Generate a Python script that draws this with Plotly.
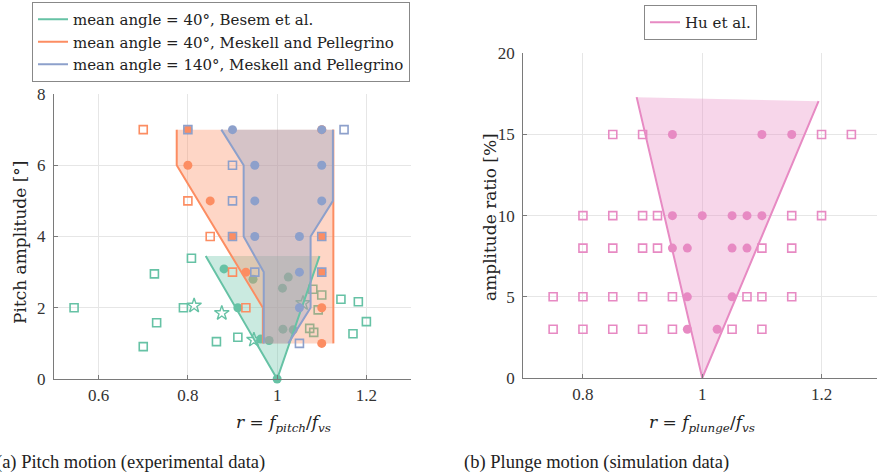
import plotly.graph_objects as go

# ---------------- data: (a) pitch motion ----------------
green_sq_r = [0.545, 0.725, 0.73, 0.70, 0.808, 0.79, 0.864, 0.912, 1.08, 1.10, 1.092, 1.073, 1.082, 1.143, 1.182, 1.20, 1.17]
green_sq_a = [2.0, 2.95, 1.58, 0.91, 3.39, 2.0, 1.05, 1.17, 2.52, 2.36, 1.94, 1.42, 1.31, 2.24, 2.17, 1.61, 1.27]
green_star_r = [0.814, 0.876, 0.948, 1.058]
green_star_a = [2.06, 1.85, 1.10, 2.13]
green_dot_r = [0.881, 0.912, 0.963, 0.982, 0.946, 1.012, 1.025, 1.013, 1.036, 1.0]
green_dot_a = [3.09, 2.0, 1.12, 1.08, 2.80, 2.55, 2.86, 1.40, 1.38, 0.0]
green_region_r = [0.84, 1.0, 1.095]
green_region_a = [3.45, 0.0, 3.45]

orange_sq_r = [0.7, 0.8, 0.85, 0.9, 0.93]
orange_sq_a = [7, 5, 4, 3, 2]
orange_dot_r = [0.8, 0.8, 0.85, 0.9, 1.1, 0.93, 1.1, 1.1, 1.1, 1.1]
orange_dot_a = [7, 6, 5, 4, 4, 3, 3, 2, 1, 7]
orange_left_r = [0.775, 0.775, 0.968, 0.968]
orange_left_a = [7, 6, 2, 1]
orange_right_r = [1.126, 1.126]
orange_right_a = [1, 7]

blue_sq_r = [0.8, 0.9, 0.9, 0.9, 1.1, 0.95, 1.1, 1.05, 1.15]
blue_sq_a = [7, 6, 5, 4, 4, 3, 3, 1, 7]
blue_dot_r = [0.9, 0.95, 0.95, 0.95, 1.05, 1.05, 1.05, 1.1, 1.1, 1.1]
blue_dot_a = [7, 6, 5, 4, 4, 3, 2, 7, 6, 5]
blue_left_r = [0.875, 0.925, 0.925, 0.97, 0.97]
blue_left_a = [7, 6, 4, 3, 1]
blue_right_r = [1.025, 1.075, 1.075, 1.125, 1.125]
blue_right_a = [1, 2, 4, 5, 7]

# ---------------- data: (b) plunge motion ----------------
pink_sq_r = [0.85, 0.9, 1.2, 1.25,
             0.8, 0.85, 0.9, 0.925, 1.15, 1.2,
             0.8, 0.85, 0.9, 0.925, 1.1, 1.15,
             0.75, 0.8, 0.85, 0.9, 0.95, 1.075, 1.1, 1.15,
             0.75, 0.8, 0.85, 0.9, 0.95, 1.05, 1.1]
pink_sq_v = [15, 15, 15, 15,
             10, 10, 10, 10, 10, 10,
             8, 8, 8, 8, 8, 8,
             5, 5, 5, 5, 5, 5, 5, 5,
             3, 3, 3, 3, 3, 3, 3]
pink_dot_r = [0.95, 1.1, 1.15,
              0.95, 1.0, 1.05, 1.075, 1.1,
              0.95, 0.975, 1.05, 1.075,
              0.975, 1.05,
              0.975, 1.025]
pink_dot_v = [15, 15, 15,
              10, 10, 10, 10, 10,
              8, 8, 8, 8,
              5, 5,
              3, 3]
pink_region_r = [0.89, 1.0, 1.195]
pink_region_v = [17.3, 0.0, 17.05]

GREEN, ORANGE, BLUE, PINK = "#66c2a5", "#fc8d62", "#8da0cb", "#e78ac3"
SERIF = "Liberation Serif, DejaVu Serif, serif"
WIDE = "DejaVu Serif, Liberation Serif, serif"
TXT = "#222222"

fig = go.Figure()

def sq(x, y, c, xa="x", ya="y"):
    return go.Scatter(x=x, y=y, mode="markers", xaxis=xa, yaxis=ya, showlegend=False,
                      marker=dict(symbol="square-open", size=8, color=c, line=dict(width=1.6, color=c)),
                      cliponaxis=False, hoverinfo="skip")

def dot(x, y, c, xa="x", ya="y"):
    return go.Scatter(x=x, y=y, mode="markers", xaxis=xa, yaxis=ya, showlegend=False,
                      marker=dict(symbol="circle", size=9, color=c, line=dict(width=0)),
                      cliponaxis=False, hoverinfo="skip")

def region(x, y, rgba, xa="x", ya="y"):
    return go.Scatter(x=x, y=y, mode="lines", fill="toself", fillcolor=rgba, xaxis=xa, yaxis=ya,
                      line=dict(width=0), showlegend=False, hoverinfo="skip")

# green markers (drawn below the regions)
fig.add_trace(sq(green_sq_r, green_sq_a, GREEN))
fig.add_trace(go.Scatter(x=green_star_r, y=green_star_a, mode="markers", showlegend=False,
                         marker=dict(symbol="star-open", size=11, color=GREEN, line=dict(width=1.4, color=GREEN)),
                         hoverinfo="skip"))
fig.add_trace(dot(green_dot_r, green_dot_a, GREEN))

# regions
fig.add_trace(region(green_region_r + [green_region_r[0]], green_region_a + [green_region_a[0]], "rgba(102,194,165,0.35)"))
fig.add_trace(region(orange_left_r + orange_right_r + [orange_left_r[0]],
                     orange_left_a + orange_right_a + [orange_left_a[0]], "rgba(252,141,98,0.36)"))
fig.add_trace(region(blue_left_r + blue_right_r + [blue_left_r[0]],
                     blue_left_a + blue_right_a + [blue_left_a[0]], "rgba(141,160,203,0.36)"))

# boundary lines (legend entries)
fig.add_trace(go.Scatter(x=green_region_r, y=green_region_a, mode="lines", line=dict(color=GREEN, width=2),
                         name="mean angle = 40°, Besem et al.", legend="legend", legendrank=1, hoverinfo="skip"))
fig.add_trace(go.Scatter(x=orange_left_r + [None] + orange_right_r, y=orange_left_a + [None] + orange_right_a,
                         mode="lines", line=dict(color=ORANGE, width=2),
                         name="mean angle = 40°, Meskell and Pellegrino", legend="legend", legendrank=2, hoverinfo="skip"))
fig.add_trace(go.Scatter(x=blue_left_r + [None] + blue_right_r, y=blue_left_a + [None] + blue_right_a,
                         mode="lines", line=dict(color=BLUE, width=2),
                         name="mean angle = 140°, Meskell and Pellegrino", legend="legend", legendrank=3, hoverinfo="skip"))

# orange / blue markers
fig.add_trace(sq(orange_sq_r, orange_sq_a, ORANGE))
fig.add_trace(dot(orange_dot_r, orange_dot_a, ORANGE))
fig.add_trace(sq(blue_sq_r, blue_sq_a, BLUE))
fig.add_trace(dot(blue_dot_r, blue_dot_a, BLUE))

# ---- right subplot ----
fig.add_trace(sq(pink_sq_r, pink_sq_v, PINK, "x2", "y2"))
fig.add_trace(region(pink_region_r + [pink_region_r[0]], pink_region_v + [pink_region_v[0]],
                     "rgba(231,138,195,0.35)", "x2", "y2"))
fig.add_trace(go.Scatter(x=pink_region_r, y=pink_region_v, mode="lines", xaxis="x2", yaxis="y2",
                         line=dict(color=PINK, width=2), name="Hu et al.", legend="legend2", hoverinfo="skip"))
fig.add_trace(dot(pink_dot_r, pink_dot_v, PINK, "x2", "y2"))

W, H = 877, 475
axis_common = dict(showgrid=True, gridcolor="#e6e6e6", gridwidth=1, showline=True, linecolor="#7a7a7a",
                   linewidth=1.2, ticks="inside", ticklen=4, tickcolor="#7a7a7a", zeroline=False,
                   tickfont=dict(family=SERIF, size=17, color="#333333"), mirror=False, automargin=False)

def ann(text, x, y, size, family=WIDE, angle=0, xanchor="center"):
    return dict(text=text, xref="paper", yref="paper", x=x / W, y=1 - y / H, xanchor=xanchor,
                yanchor="middle", showarrow=False, textangle=angle,
                font=dict(family=family, size=size, color=TXT))

fig.update_layout(
    template="none",
    width=W, height=H, margin=dict(l=0, r=0, t=0, b=0, autoexpand=False),
    paper_bgcolor="white", plot_bgcolor="white",
    font=dict(family=SERIF, color=TXT),
    xaxis=dict(axis_common, domain=[54 / W, 411 / W], range=[0.5, 1.3], anchor="y",
               tickvals=[0.6, 0.8, 1.0, 1.2], ticktext=["0.6", "0.8", "1", "1.2"], ticklabelstandoff=0),
    yaxis=dict(axis_common, domain=[1 - 379 / H, 1 - 94 / H], range=[0, 8], anchor="x",
               tickvals=[0, 2, 4, 6, 8], ticklabelstandoff=4),
    xaxis2=dict(axis_common, domain=[523.3 / W, 1.0], range=[0.7, 0.7 + (W - 523.3) / 596.5], anchor="y2",
                tickvals=[0.8, 1.0, 1.2], ticktext=["0.8", "1", "1.2"], ticklabelstandoff=0),
    yaxis2=dict(axis_common, domain=[1 - 378 / H, 1 - 53.3 / H], range=[0, 20], anchor="x2",
                tickvals=[0, 5, 10, 15, 20], ticklabelstandoff=4),
    legend=dict(x=32 / W, y=1 - 2 / H, xanchor="left", yanchor="top", bgcolor="white",
                bordercolor="#888888", borderwidth=1, font=dict(family=WIDE, size=15, color=TXT),
                tracegroupgap=0, itemwidth=30),
    legend2=dict(x=644 / W, y=1 - 5 / H, xanchor="left", yanchor="top", bgcolor="white",
                 bordercolor="#888888", borderwidth=1, font=dict(family=WIDE, size=15, color=TXT),
                 itemwidth=30),
    annotations=[
        ann("<i>r</i> = <i>f</i><sub><i>pitch</i></sub>/<i>f</i><sub><i>vs</i></sub>", 283, 423, 17),
        ann("<i>r</i> = <i>f</i><sub><i>plunge</i></sub>/<i>f</i><sub><i>vs</i></sub>", 702, 423, 17),
        ann("Pitch amplitude [°]", 20, 243, 17, angle=-90),
        ann("amplitude ratio [%]", 490, 217, 17, angle=-90),
        ann("(a) Pitch motion (experimental data)", -6, 462, 18.5, family=SERIF, xanchor="left"),
        ann("(b) Plunge motion (simulation data)", 462, 462, 18.5, family=SERIF, xanchor="left"),
    ],
)

fig.write_html("out.html")
